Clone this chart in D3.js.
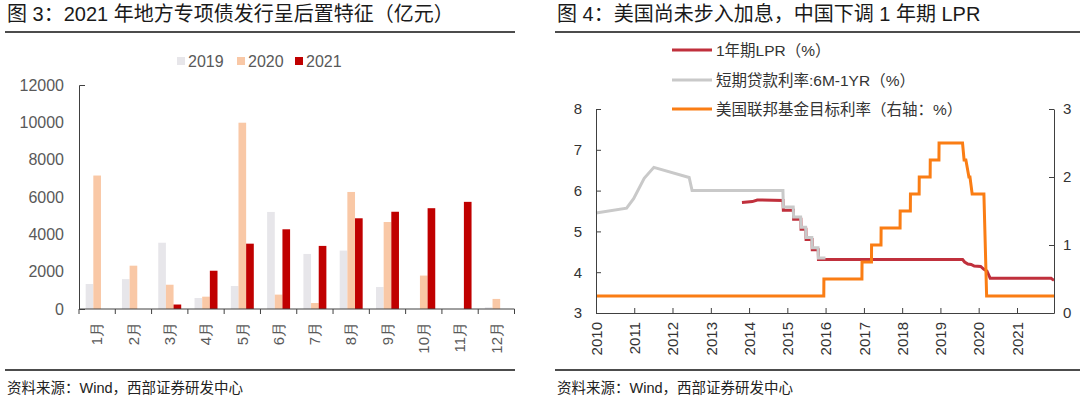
<!DOCTYPE html>
<html>
<head>
<meta charset="utf-8">
<script src="https://cdn.jsdelivr.net/npm/d3@7"></script>
<style>
  body { margin: 0; background: #fff; }
  svg { display: block; font-family: "Liberation Sans", "Noto Sans CJK SC", sans-serif; }
</style>
</head>
<body>
<div id="chart"></div>
<script>
// ---- left chart data (亿元) ----
var months = ["1月", "2月", "3月", "4月", "5月", "6月", "7月", "8月", "9月", "10月", "11月", "12月"];
var years = ["2019", "2020", "2021"];
var v2019 = [1340, 1600, 3550, 590, 1230, 5200, 2950, 3130, 1180, 0, 0, 90];
var v2020 = [7150, 2320, 1300, 660, 9980, 770, 320, 6270, 4660, 1790, 0, 540];
var v2021 = [0, 0, 240, 2050, 3500, 4270, 3380, 4860, 5210, 5400, 5740, 0];
var barTicks = [0, 2000, 4000, 6000, 8000, 10000, 12000];

// ---- right chart data (%) ----
var lpr = [
  ["2013-10-25", 5.71], ["2014-02-01", 5.73], ["2014-03-20", 5.77], ["2014-11-21", 5.76],
  ["2014-11-24", 5.52], ["2015-02-28", 5.52], ["2015-03-02", 5.30], ["2015-05-10", 5.30],
  ["2015-05-12", 5.05], ["2015-06-27", 5.05], ["2015-06-29", 4.80], ["2015-08-25", 4.80],
  ["2015-08-27", 4.55], ["2015-10-23", 4.55], ["2015-10-25", 4.31], ["2019-08-01", 4.31],
  ["2019-08-20", 4.25], ["2019-09-20", 4.20], ["2019-10-21", 4.19], ["2019-11-20", 4.15],
  ["2020-01-20", 4.14], ["2020-02-20", 4.07], ["2020-03-20", 4.03], ["2020-04-20", 3.85],
  ["2021-11-22", 3.85], ["2021-12-20", 3.80]
];
var shortLoan = [
  ["2010-01-01", 5.45], ["2010-10-20", 5.57], ["2010-12-26", 5.80], ["2011-04-06", 6.30],
  ["2011-07-07", 6.57], ["2012-06-08", 6.32], ["2012-07-06", 6.00], ["2014-11-20", 6.00],
  ["2014-11-24", 5.60], ["2015-02-26", 5.60], ["2015-03-02", 5.35], ["2015-05-08", 5.35],
  ["2015-05-12", 5.10], ["2015-06-25", 5.10], ["2015-06-29", 4.85], ["2015-08-23", 4.85],
  ["2015-08-27", 4.60], ["2015-10-21", 4.60], ["2015-10-25", 4.35], ["2015-12-31", 4.35]
];
var fedRate = [
  ["2010-01-01", 0.25], ["2015-12-15", 0.25], ["2015-12-16", 0.50], ["2016-12-13", 0.50],
  ["2016-12-14", 0.75], ["2017-03-14", 0.75], ["2017-03-15", 1.00], ["2017-06-13", 1.00],
  ["2017-06-14", 1.25], ["2017-12-12", 1.25], ["2017-12-13", 1.50], ["2018-03-20", 1.50],
  ["2018-03-21", 1.75], ["2018-06-12", 1.75], ["2018-06-13", 2.00], ["2018-09-25", 2.00],
  ["2018-09-26", 2.25], ["2018-12-18", 2.25], ["2018-12-19", 2.50], ["2019-07-31", 2.50],
  ["2019-08-15", 2.25], ["2019-09-01", 2.25], ["2019-09-30", 2.00], ["2019-10-10", 2.00],
  ["2019-10-31", 1.75], ["2020-02-20", 1.75], ["2020-03-17", 0.25], ["2021-12-20", 0.25]
];
var leftTicks = [3, 4, 5, 6, 7, 8];
var rightTicks = [0, 1, 2, 3];
var lineNames = ["1年期LPR（%）", "短期贷款利率:6M-1YR（%）", "美国联邦基金目标利率（右轴：%）"];

var svg = d3.select("#chart").append("svg")
  .attr("width", 1080)
  .attr("height", 397);

var axisColor = "#404040";

// ---------- panel frames ----------
function panelFrame(x0, x1, title) {
  svg.append("text")
    .attr("x", x0 + 2).attr("y", 21)
    .style("font-size", "20px").style("fill", "#1a1a1a")
    .text(title);
  svg.append("line").attr("x1", x0).attr("x2", x1).attr("y1", 32).attr("y2", 32)
    .attr("stroke", "#111").attr("stroke-width", 1.5);
  svg.append("line").attr("x1", x0).attr("x2", x1).attr("y1", 370).attr("y2", 370)
    .attr("stroke", "#111").attr("stroke-width", 1.5);
  svg.append("text")
    .attr("x", x0 + 2).attr("y", 393)
    .style("font-size", "14.5px").style("fill", "#222")
    .text("资料来源：Wind，西部证券研发中心");
}
panelFrame(5, 515, "图 3：2021 年地方专项债发行呈后置特征（亿元）");
panelFrame(555, 1080, "图 4：美国尚未步入加息，中国下调 1 年期 LPR");

// ---------- left: bar chart ----------
var barColors = {"2019": "#e7e6ea", "2020": "#f9c8a6", "2021": "#c00000"};
var barRows = months.map(function(m, i) {
  return {month: m, "2019": v2019[i], "2020": v2020[i], "2021": v2021[i]};
});

var x0 = d3.scaleBand().domain(months).range([79, 514.5]).paddingInner(0).paddingOuter(0);
var x1 = d3.scaleBand().domain(years).range([0, x0.bandwidth()]).paddingInner(0).paddingOuter(0.87);
var yb = d3.scaleLinear().domain([0, 12000]).range([309, 85]);

var gb = svg.append("g");
gb.selectAll("g.month")
  .data(barRows)
  .enter().append("g")
    .attr("transform", function(d) { return "translate(" + x0(d.month) + ",0)"; })
  .selectAll("rect")
  .data(function(d) { return years.map(function(k) { return {key: k, value: d[k]}; }); })
  .enter().append("rect")
    .attr("x", function(d) { return x1(d.key); })
    .attr("y", function(d) { return yb(d.value); })
    .attr("width", x1.bandwidth())
    .attr("height", function(d) { return 309 - yb(d.value); })
    .style("fill", function(d) { return barColors[d.key]; });

var yAxisB = svg.append("g")
  .attr("transform", "translate(79,0)")
  .call(d3.axisLeft(yb).tickValues(barTicks).tickFormat(d3.format("d"))
    .tickSizeInner(0).tickSizeOuter(-6).tickPadding(15));
yAxisB.selectAll("text").style("font-size", "16px").style("fill", "#595959").style("font-family", "Liberation Sans, sans-serif");
yAxisB.select(".domain").attr("stroke", axisColor);

var xAxisB = svg.append("g")
  .attr("transform", "translate(0,309)")
  .call(d3.axisBottom(x0).tickSize(0).tickPadding(0));
xAxisB.select(".domain").remove();
xAxisB.selectAll("text")
  .attr("transform", "translate(0,13) rotate(-90)")
  .attr("x", 0).attr("y", 0).attr("dy", "0.35em")
  .style("text-anchor", "end")
  .style("font-size", "15px").style("fill", "#595959");
svg.append("line").attr("x1", 79).attr("x2", 514.5).attr("y1", 309).attr("y2", 309)
  .attr("stroke", axisColor);
var bounds = months.map(function(m) { return x0(m); }).concat([x0.range()[1]]);
svg.selectAll("line.btick").data(bounds).enter().append("line")
  .attr("x1", function(d) { return d; }).attr("x2", function(d) { return d; })
  .attr("y1", 309).attr("y2", 314).attr("stroke", axisColor);

// legend
var lg = svg.append("g");
var legX = [177, 237, 295];
years.forEach(function(k, i) {
  lg.append("rect").attr("x", legX[i]).attr("y", 57).attr("width", 8).attr("height", 8)
    .style("fill", barColors[k]);
  lg.append("text").attr("x", legX[i] + 11).attr("y", 67)
    .style("font-size", "16px").style("fill", "#595959").text(k);
});

// ---------- right: line chart ----------
var parse = d3.timeParse("%Y-%m-%d");
var xt = d3.scaleTime().domain([parse("2010-01-01"), parse("2021-12-20")]).range([596, 1054]);
var yl = d3.scaleLinear().domain([3, 8]).range([313, 109]);
var yr = d3.scaleLinear().domain([0, 3]).range([313, 109]);

var lineL = d3.line().x(function(d) { return xt(parse(d[0])); }).y(function(d) { return yl(d[1]); });
var lineR = d3.line().x(function(d) { return xt(parse(d[0])); }).y(function(d) { return yr(d[1]); });

var lineColors = ["#c0303c", "#c9c9c9", "#fa7d14"];

svg.append("path").datum(lpr).attr("d", lineL)
  .attr("fill", "none").attr("stroke", lineColors[0]).attr("stroke-width", 3);
svg.append("path").datum(shortLoan).attr("d", lineL)
  .attr("fill", "none").attr("stroke", lineColors[1]).attr("stroke-width", 3);
svg.append("path").datum(fedRate).attr("d", lineR)
  .attr("fill", "none").attr("stroke", lineColors[2]).attr("stroke-width", 3);

var yAxisL = svg.append("g").attr("transform", "translate(596,0)")
  .call(d3.axisLeft(yl).tickValues(leftTicks).tickFormat(d3.format("d"))
    .tickSizeInner(-5).tickSizeOuter(0).tickPadding(14));
var yAxisR = svg.append("g").attr("transform", "translate(1054,0)")
  .call(d3.axisRight(yr).tickValues(rightTicks).tickFormat(d3.format("d"))
    .tickSizeInner(-5).tickSizeOuter(0).tickPadding(9));
var yearTicks = d3.range(2010, 2022).map(function(y) { return parse(y + "-01-01"); });
var xAxisT = svg.append("g").attr("transform", "translate(0,313)")
  .call(d3.axisBottom(xt).tickValues(yearTicks).tickFormat(d3.timeFormat("%Y")).tickSizeInner(-5).tickSizeOuter(0).tickPadding(0));
xAxisT.selectAll("text")
  .attr("transform", "translate(0,9) rotate(-90)")
  .attr("x", 0).attr("y", 0).attr("dy", "0.35em")
  .style("text-anchor", "end");

[yAxisL, yAxisR, xAxisT].forEach(function(a) {
  a.select(".domain").attr("stroke", axisColor);
  a.selectAll(".tick line").attr("stroke", axisColor);
  a.selectAll("text").style("font-size", "15px").style("fill", "#333")
    .style("font-family", "Liberation Sans, sans-serif");
});

// line legend
var legY = [50, 80, 109];
lineNames.forEach(function(name, i) {
  svg.append("line").attr("x1", 672).attr("x2", 712).attr("y1", legY[i]).attr("y2", legY[i])
    .attr("stroke", lineColors[i]).attr("stroke-width", 3);
  svg.append("text").attr("x", 716).attr("y", legY[i] + 5.5)
    .style("font-size", "15.5px").style("fill", "#333").text(name);
});
</script>
</body>
</html>
